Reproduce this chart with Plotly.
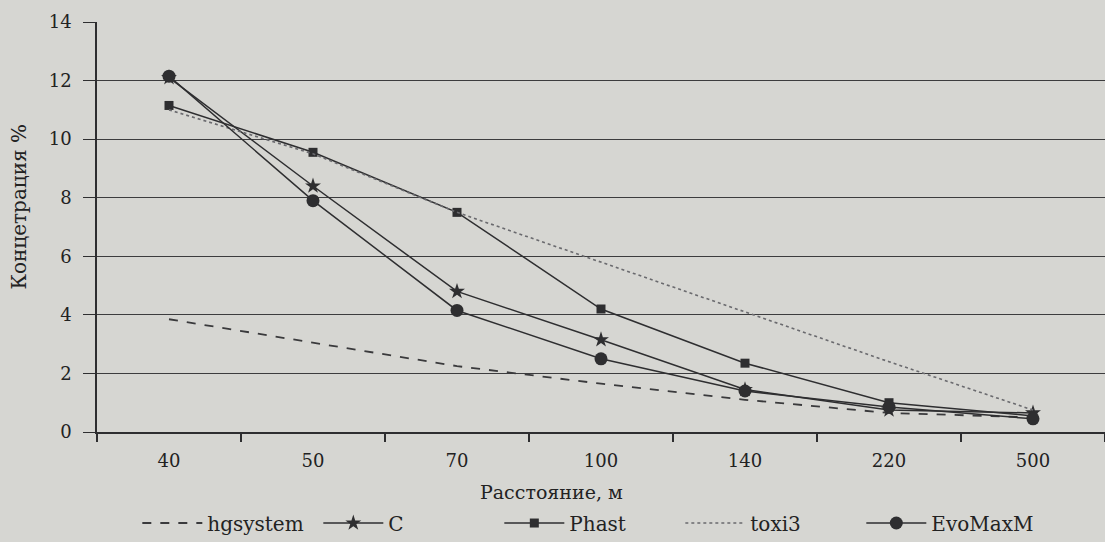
import plotly.graph_objects as go

categories = ["40", "50", "70", "100", "140", "220", "500"]
hgsystem = [3.85, 3.05, 2.25, 1.65, 1.1, 0.65, 0.5]
c_vals = [12.1, 8.4, 4.8, 3.15, 1.45, 0.75, 0.65]
phast = [11.15, 9.55, 7.5, 4.2, 2.35, 1.0, 0.55]
toxi3 = [11.0, 9.5, 7.5, 5.8, 4.1, 2.4, 0.75]
evomaxm = [12.15, 7.9, 4.15, 2.5, 1.4, 0.85, 0.45]

ink = "#2e2e30"
paper = "#d6d6d2"
fam = "DejaVu Serif"
txt = "#222222"

fig = go.Figure()
fig.add_trace(go.Scatter(x=categories, y=hgsystem, name="hgsystem", mode="lines",
                         line=dict(color="#3a3a3c", width=1.8, dash="dash")))
fig.add_trace(go.Scatter(x=categories, y=c_vals, name="C", mode="lines+markers",
                         line=dict(color=ink, width=1.5),
                         marker=dict(symbol="star", size=12, color=ink)))
fig.add_trace(go.Scatter(x=categories, y=phast, name="Phast", mode="lines+markers",
                         line=dict(color=ink, width=1.5),
                         marker=dict(symbol="square", size=9, color=ink)))
fig.add_trace(go.Scatter(x=categories, y=toxi3, name="toxi3", mode="lines",
                         line=dict(color="#6a6a6e", width=1.6, dash="dot")))
fig.add_trace(go.Scatter(x=categories, y=evomaxm, name="EvoMaxM", mode="lines+markers",
                         line=dict(color=ink, width=1.5),
                         marker=dict(symbol="circle", size=13, color=ink)))

fig.update_layout(
    width=1105, height=542,
    paper_bgcolor=paper, plot_bgcolor=paper,
    margin=dict(l=97, r=0, t=22, b=110, autoexpand=False),
    font=dict(size=18, family=fam, color=txt),
    showlegend=True,
    legend=dict(orientation="h", x=0.04, xanchor="left", y=-0.222, yanchor="middle",
                bgcolor="rgba(0,0,0,0)", font=dict(size=20, family=fam, color=txt),
                itemwidth=60, entrywidthmode="pixels", entrywidth=106),
    annotations=[
        dict(text="Расстояние, м", xref="paper", yref="paper",
             x=0.451, y=-0.146, xanchor="center", yanchor="middle",
             showarrow=False, font=dict(size=19, family=fam, color=txt)),
        dict(text="Концетрация %", xref="paper", yref="paper", textangle=-90,
             x=-0.0764, y=0.55, xanchor="center", yanchor="middle",
             showarrow=False, font=dict(size=20, family=fam, color=txt)),
    ],
)
fig.update_xaxes(
    type="category", range=[-0.5, 6.5],
    showline=True, linecolor=ink, linewidth=1.5,
    ticks="outside", tickson="boundaries", ticklen=8, tickcolor=ink, tickwidth=1.5,
    showgrid=False, zeroline=False, ticklabelstandoff=12,
    tickfont=dict(size=18, family=fam, color=txt),
)
fig.update_yaxes(
    range=[0, 14], dtick=2,
    showline=True, linecolor=ink, linewidth=1.5,
    ticks="outside", ticklen=12, tickcolor=ink, tickwidth=1.2,
    showgrid=True, gridcolor="#3c3c3e", gridwidth=1.1, zeroline=False, ticklabelstandoff=8,
    tickfont=dict(size=18, family=fam, color=txt),
)

fig.write_html(
    "out.html",
    config={"displayModeBar": False},
    post_script="document.body.style.margin='0';document.body.style.overflow='hidden';"
                "document.body.style.background='" + paper + "';",
)
